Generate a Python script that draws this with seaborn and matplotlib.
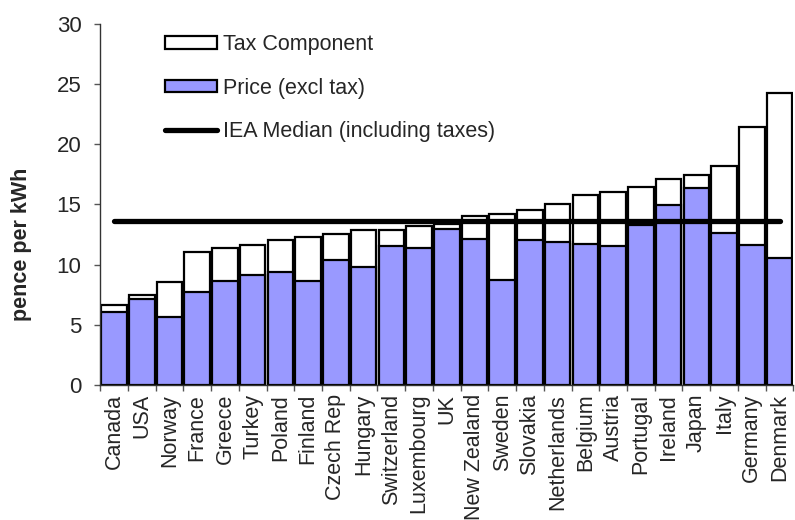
import numpy as np
import pandas as pd
import seaborn as sns
import matplotlib.pyplot as plt
from matplotlib.patches import Patch
from matplotlib.lines import Line2D

# dados
countries = ['Canada', 'USA', 'Norway', 'France', 'Greece', 'Turkey', 'Poland',
             'Finland', 'Czech Rep', 'Hungary', 'Switzerland', 'Luxembourg', 'UK',
             'New Zealand', 'Sweden', 'Slovakia', 'Netherlands', 'Belgium',
             'Austria', 'Portugal', 'Ireland', 'Japan', 'Italy', 'Germany', 'Denmark']
price = [6.05, 7.1, 5.65, 7.7, 8.6, 9.1, 9.35, 8.6, 10.35, 9.8, 11.55, 11.35, 12.95,
         12.1, 8.75, 12.0, 11.85, 11.7, 11.55, 13.3, 14.95, 16.35, 12.6, 11.65, 10.55]
tax = [0.55, 0.4, 2.9, 3.35, 2.75, 2.55, 2.7, 3.7, 2.2, 3.05, 1.3, 1.85, 0.4,
       1.9, 5.45, 2.5, 3.2, 4.1, 4.45, 3.15, 2.15, 1.1, 5.6, 9.75, 13.7]
iea_median = 13.65

df = pd.DataFrame({'country': countries, 'price': price, 'tax': tax})
df['total'] = df['price'] + df['tax']

sns.set_style('ticks')
plt.rcParams['font.family'] = ['Liberation Sans', 'DejaVu Sans']
plt.rcParams['font.size'] = 15.5

fig = plt.figure(figsize=(7.95, 5.2), dpi=100)
ax = fig.add_axes([0.126, 0.26, 0.872, 0.694])

# barras empilhadas: total (branco) por baixo, preco (azul) por cima
sns.barplot(data=df, x='country', y='total', color='white', edgecolor='black',
            linewidth=1.6, width=0.92, saturation=1, ax=ax)
sns.barplot(data=df, x='country', y='price', color='#9999FF', edgecolor='black',
            linewidth=1.6, width=0.92, saturation=1, ax=ax)

# linha da mediana
n = len(countries)
sns.lineplot(x=np.arange(n), y=[iea_median] * n, color='black', linewidth=3.8,
             solid_capstyle='round', ax=ax)

ax.set_xlim(-0.5, n - 0.5)
ax.set_ylim(0, 30)
ax.set_yticks(range(0, 31, 5))
ax.tick_params(axis='y', length=4.5, width=1, pad=9, labelsize=16, color='#555555')

# ticks nas divisas, rotulos no centro
ax.set_xticks(np.arange(n + 1) - 0.5)
ax.set_xticklabels([])
ax.set_xticks(np.arange(n), minor=True)
ax.set_xticklabels(countries, minor=True, rotation=90, fontsize=15.5)
ax.tick_params(axis='x', which='major', length=4.5, width=1, color='#555555')
ax.tick_params(axis='x', which='minor', length=0, pad=6.5)

ax.set_xlabel('')
ax.set_ylabel('pence per kWh', fontweight='bold', fontsize=15.5)
ax.yaxis.set_label_coords(-0.098, 0.39)

sns.despine(ax=ax)
for s in ['left', 'bottom']:
    ax.spines[s].set_color('#333333')
    ax.spines[s].set_linewidth(1)

handles = [Patch(facecolor='white', edgecolor='black', linewidth=1.6),
           Patch(facecolor='#9999FF', edgecolor='black', linewidth=1.6),
           Line2D([0], [0], color='black', linewidth=3.8, solid_capstyle='round')]
labels = ['Tax Component', 'Price (excl tax)', 'IEA Median (including taxes)']
ax.legend(handles, labels, loc='upper left', bbox_to_anchor=(0.094, 0.972),
          frameon=False, fontsize=15.5, handlelength=2.4, handleheight=0.5,
          handletextpad=0.3, labelspacing=1.05, borderpad=0, borderaxespad=0)

plt.savefig('out.png', dpi=100)
